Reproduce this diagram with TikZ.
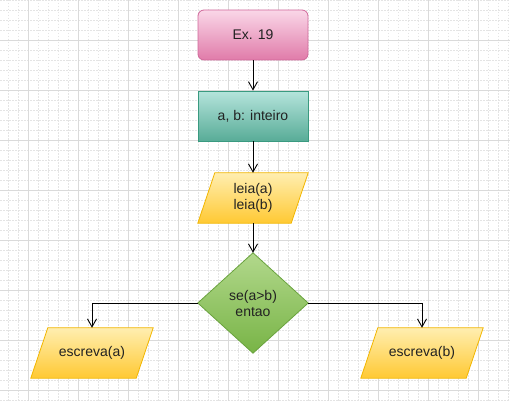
\documentclass[tikz,border=0pt]{standalone}
\usepackage{fontspec}
\setmainfont{Liberation Sans}
\usetikzlibrary{arrows.meta}
\definecolor{gridmin}{HTML}{E4E4E4}
\definecolor{gridmaj}{HTML}{DADADA}
\definecolor{pinktop}{HTML}{FAD7E8}
\definecolor{pinkbot}{HTML}{E07BA9}
\definecolor{pinkline}{HTML}{D0679A}
\definecolor{tealtop}{HTML}{B5E4DC}
\definecolor{tealbot}{HTML}{58AC97}
\definecolor{tealline}{HTML}{3A9A80}
\definecolor{yeltop}{HTML}{FFEEB0}
\definecolor{yelbot}{HTML}{FFC933}
\definecolor{yelline}{HTML}{F2B600}
\definecolor{grntop}{HTML}{B2D88C}
\definecolor{grnbot}{HTML}{78B446}
\definecolor{grnline}{HTML}{6AA33E}
\definecolor{txt}{HTML}{222222}
\begin{document}
\begin{tikzpicture}[x=1pt,y=-1pt,
  box/.style={minimum width=110pt,minimum height=50pt,inner sep=0pt,align=center,
    font=\fontsize{14}{16}\selectfont,text=txt},
  pinkbox/.style={box,rectangle,rounded corners=6pt,top color=pinktop,bottom color=pinkbot,draw=pinkline,line width=0.8pt},
  tealbox/.style={box,rectangle,top color=tealtop,bottom color=tealbot,draw=tealline,line width=0.8pt},
  yelfill/.style={top color=yeltop,bottom color=yelbot,draw=yelline,line width=0.8pt},
  grnfill/.style={top color=grntop,bottom color=grnbot,draw=grnline,line width=0.8pt},
  arr/.style={draw=black,line width=0.9pt,-{Straight Barb[length=8pt,width=9pt]}}]
\useasboundingbox (0,0) rectangle (510,401);
\fill[white] (0,0) rectangle (510,401);
% grid
\foreach \x in {8,18,...,508} \draw[gridmin,line width=0.8pt,dash pattern=on 1.5pt off 1.5pt] (\x,0) -- (\x,401);
\foreach \y in {0,10,...,400} \draw[gridmin,line width=0.8pt,dash pattern=on 1.5pt off 1.5pt] (0,\y) -- (510,\y);
\foreach \x in {28,78,...,478} \draw[gridmaj,line width=0.9pt] (\x,0) -- (\x,401);
\foreach \y in {40,90,...,390} \draw[gridmaj,line width=0.9pt] (0,\y) -- (510,\y);
% nodes
\node[pinkbox] (ex) at (253,35) {Ex. 19};
\node[tealbox] (decl) at (253,116) {a, b: inteiro};
\node[box] (leia) at (253,198) {};
\node[box,minimum height=100pt] (se) at (253,303) {};
\node[box,minimum width=122pt] (ea) at (92,353) {};
\node[box,minimum width=122pt] (eb) at (422,353) {};
% shapes
\path[yelfill] ([xshift=17pt]leia.north west) -- (leia.north east) -- ([xshift=-17pt]leia.south east) -- (leia.south west) -- cycle;
\path[grnfill] (se.north) -- (se.east) -- (se.south) -- (se.west) -- cycle;
\path[yelfill] ([xshift=17pt]ea.north west) -- (ea.north east) -- ([xshift=-17pt]ea.south east) -- (ea.south west) -- cycle;
\path[yelfill] ([xshift=17pt]eb.north west) -- (eb.north east) -- ([xshift=-17pt]eb.south east) -- (eb.south west) -- cycle;
% texts
\node[box] at (leia.center) {leia(a)\\leia(b)};
\node[box] at (se.center) {se(a>b)\\entao};
\node[box] at (ea.center) {escreva(a)};
\node[box] at (eb.center) {escreva(b)};
% connectors
\draw[arr] (ex.south) -- (decl.north);
\draw[arr] (decl.south) -- (leia.north);
\draw[arr] (leia.south) -- (se.north);
\draw[arr] (se.west) -| (ea.north);
\draw[arr] (se.east) -| (eb.north);
\end{tikzpicture}
\end{document}
